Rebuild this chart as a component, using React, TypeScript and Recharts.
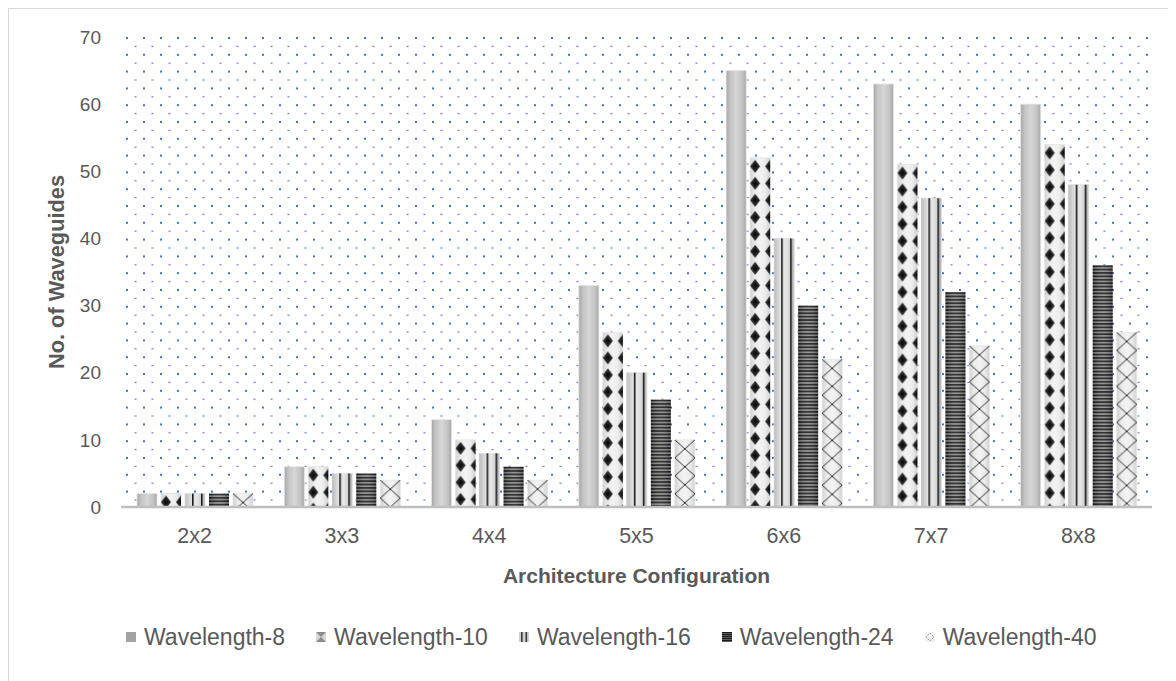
import React from 'react';
import { BarChart, Bar, XAxis, YAxis, CartesianGrid, Legend } from 'recharts';

const categories = ['2x2', '3x3', '4x4', '5x5', '6x6', '7x7', '8x8'];
const wavelength8 = [2, 6, 13, 33, 65, 63, 60];
const wavelength10 = [2, 6, 10, 26, 52, 51, 54];
const wavelength16 = [2, 5, 8, 20, 40, 46, 48];
const wavelength24 = [2, 5, 6, 16, 30, 32, 36];
const wavelength40 = [2, 4, 4, 10, 22, 24, 26];
const yTicks = [0, 10, 20, 30, 40, 50, 60, 70];
const seriesKeys = ['w8', 'w10', 'w16', 'w24', 'w40'];
const seriesNames = ['Wavelength-8', 'Wavelength-10', 'Wavelength-16', 'Wavelength-24', 'Wavelength-40'];
const xTitle = 'Architecture Configuration';
const yTitle = 'No. of Waveguides';

const data = categories.map((c, i) => ({
  category: c,
  w8: wavelength8[i],
  w10: wavelength10[i],
  w16: wavelength16[i],
  w24: wavelength24[i],
  w40: wavelength40[i],
}));

const FONT = '"Liberation Sans", Arial, sans-serif';
const TEXT = '#595959';

const Shape8 = (p: any) => {
  const { x, y, width, height } = p;
  if (!height || height <= 0) return null;
  return <rect x={x} y={y} width={width} height={height} fill="url(#g8)" stroke="#e4e4e4" strokeWidth={0.8} />;
};

const Shape10 = (p: any) => {
  const { x, y, width, height } = p;
  if (!height || height <= 0) return null;
  const id = `p10-${Math.round(x)}`;
  return (
    <g>
      <defs>
        <pattern id={id} patternUnits="userSpaceOnUse" x={x} y={y} width={15} height={17}>
          <polygon points="5,2 10,8.5 5,15 0,8.5" fill="#262626" />
          <polygon points="5,5.5 7.5,8.5 5,11.5 2.5,8.5" fill="#0f0f0f" />
        </pattern>
      </defs>
      <rect x={x} y={y} width={width} height={height} fill="url(#gLight)" stroke="#e4e4e4" strokeWidth={0.8} />
      <rect x={x} y={y} width={width} height={height} fill={`url(#${id})`} />
    </g>
  );
};

const Shape16 = (p: any) => {
  const { x, y, width, height } = p;
  if (!height || height <= 0) return null;
  const id = `p16-${Math.round(x)}`;
  return (
    <g>
      <defs>
        <pattern id={id} patternUnits="userSpaceOnUse" x={x} y={y} width={9} height={10}>
          <rect x={7} y={0} width={1.6} height={10} fill="#1c1c1c" />
        </pattern>
      </defs>
      <rect x={x} y={y} width={width} height={height} fill="url(#g16)" stroke="#e0e0e0" strokeWidth={0.8} />
      <rect x={x} y={y} width={width} height={height} fill={`url(#${id})`} />
    </g>
  );
};

const Shape24 = (p: any) => {
  const { x, y, width, height } = p;
  if (!height || height <= 0) return null;
  const id = `p24-${Math.round(x)}`;
  return (
    <g>
      <defs>
        <pattern id={id} patternUnits="userSpaceOnUse" x={x} y={y} width={10} height={3.4}>
          <rect x={0} y={0} width={10} height={3.4} fill="#8e8e8e" />
          <rect x={0} y={0} width={10} height={1.8} fill="#1e1e1e" />
        </pattern>
      </defs>
      <rect x={x} y={y} width={width} height={height} fill={`url(#${id})`} />
      <rect x={x} y={y} width={width} height={height} fill="url(#gShade)" />
    </g>
  );
};

const Shape40 = (p: any) => {
  const { x, y, width, height } = p;
  if (!height || height <= 0) return null;
  const id = `p40-${Math.round(x)}`;
  const w = width;
  const h = 18;
  return (
    <g>
      <defs>
        <pattern id={id} patternUnits="userSpaceOnUse" x={x} y={y} width={w} height={h}>
          <line x1={0} y1={0} x2={w} y2={h} stroke="#2e2e2e" strokeWidth={1} />
          <line x1={w} y1={0} x2={0} y2={h} stroke="#2e2e2e" strokeWidth={1} />
        </pattern>
      </defs>
      <rect x={x} y={y} width={width} height={height} fill="url(#gLight)" stroke="#e6e6e6" strokeWidth={0.8} />
      <rect x={x} y={y} width={width} height={height} fill={`url(#${id})`} />
    </g>
  );
};

const shapes = [Shape8, Shape10, Shape16, Shape24, Shape40];

const legendIcons = [
  <rect key="a" x={0} y={0} width={10} height={10} fill="#a3a3a3" />,
  <g key="b">
    <rect x={0} y={0} width={10} height={10} fill="#d6d6d6" />
    <polygon points="0,0 10,0 5,5" fill="#8a8a8a" />
    <polygon points="0,10 10,10 5,5" fill="#8a8a8a" />
  </g>,
  <g key="c">
    <rect x={0} y={0} width={10} height={10} fill="#cfcfcf" />
    <rect x={2} y={0} width={1.6} height={10} fill="#3a3a3a" />
    <rect x={6.5} y={0} width={1.6} height={10} fill="#3a3a3a" />
  </g>,
  <g key="d">
    <rect x={0} y={0} width={10} height={10} fill="#7a7a7a" />
    {[0, 2, 4, 6, 8].map((v) => (
      <rect key={v} x={0} y={v} width={10} height={1.3} fill="#1a1a1a" />
    ))}
  </g>,
  <g key="e">
    <rect x={0} y={0} width={10} height={10} fill="#f2f2f2" />
    <polygon points="5,1 9,5 5,9 1,5" fill="none" stroke="#9a9a9a" strokeWidth={1} strokeDasharray="1.5 1" />
  </g>,
];

const renderLegend = () => (
  <div
    style={{
      display: 'flex',
      alignItems: 'center',
      fontFamily: FONT,
      fontSize: 23,
      color: TEXT,
      lineHeight: '28px',
      whiteSpace: 'nowrap',
    }}
  >
    {seriesNames.map((n, i) => (
      <div key={n} style={{ display: 'flex', alignItems: 'center', marginRight: 31 }}>
        <svg width={10} height={10} style={{ marginRight: 8, display: 'block' }}>
          {legendIcons[i]}
        </svg>
        <span>{n}</span>
      </div>
    ))}
  </div>
);

const XTitle = (props: any) => {
  const vb = props.viewBox || { x: 112, y: 498, width: 1031, height: 100 };
  return (
    <text
      x={vb.x + vb.width / 2}
      y={vb.y + 68}
      textAnchor="middle"
      dominantBaseline="central"
      fontFamily={FONT}
      fontSize={21}
      fontWeight="bold"
      fill={TEXT}
    >
      {xTitle}
    </text>
  );
};

const YTitle = (props: any) => {
  const vb = props.viewBox || { x: 0, y: 28, width: 112, height: 470 };
  const cx = vb.x + 47;
  const cy = vb.y + vb.height / 2;
  return (
    <text
      x={cx}
      y={cy}
      transform={`rotate(-90, ${cx}, ${cy})`}
      textAnchor="middle"
      dominantBaseline="central"
      fontFamily={FONT}
      fontSize={21.8}
      fontWeight="bold"
      fill={TEXT}
    >
      {yTitle}
    </text>
  );
};

export default function App() {
  return (
    <div style={{ width: 1180, height: 690, border: '1px solid #d9d9d9', background: '#fff' }}>
      <style>{'html,body{overflow:hidden}'}</style>
      <BarChart
        width={1178}
        height={688}
        data={data}
        margin={{ top: 28, right: 35, left: 0, bottom: 62 }}
        barSize={20}
        barGap={4}
      >
        <defs>
          <pattern id="dots" patternUnits="userSpaceOnUse" x={118} y={29} width={17} height={16.8}>
            <rect x={-1} y={-1} width={2} height={2} fill="#4472c4" />
            <rect x={16} y={-1} width={2} height={2} fill="#4472c4" />
            <rect x={-1} y={15.8} width={2} height={2} fill="#4472c4" />
            <rect x={16} y={15.8} width={2} height={2} fill="#4472c4" />
            <rect x={7.4} y={7.8} width={2.2} height={1.2} fill="#5d86cc" />
          </pattern>
          <linearGradient id="g8" x1="0" y1="0" x2="1" y2="0">
            <stop offset="0" stopColor="#a6a6a6" />
            <stop offset="0.2" stopColor="#c4c4c4" />
            <stop offset="0.5" stopColor="#d6d6d6" />
            <stop offset="0.8" stopColor="#c4c4c4" />
            <stop offset="1" stopColor="#a6a6a6" />
          </linearGradient>
          <linearGradient id="gLight" x1="0" y1="0" x2="1" y2="0">
            <stop offset="0" stopColor="#d2d2d2" />
            <stop offset="0.25" stopColor="#ececec" />
            <stop offset="0.5" stopColor="#f3f3f3" />
            <stop offset="0.75" stopColor="#ececec" />
            <stop offset="1" stopColor="#d2d2d2" />
          </linearGradient>
          <linearGradient id="g16" x1="0" y1="0" x2="1" y2="0">
            <stop offset="0" stopColor="#bdbdbd" />
            <stop offset="0.3" stopColor="#e0e0e0" />
            <stop offset="0.6" stopColor="#e6e6e6" />
            <stop offset="1" stopColor="#b5b5b5" />
          </linearGradient>
          <linearGradient id="gShade" x1="0" y1="0" x2="1" y2="0">
            <stop offset="0" stopColor="#000" stopOpacity={0.25} />
            <stop offset="0.5" stopColor="#fff" stopOpacity={0.1} />
            <stop offset="1" stopColor="#000" stopOpacity={0.25} />
          </linearGradient>
        </defs>
        <CartesianGrid horizontal={false} vertical={false} fill="url(#dots)" stroke="none" />
        <XAxis
          dataKey="category"
          interval={0}
          axisLine={{ stroke: '#bfbfbf', strokeWidth: 2.5 }}
          tickLine={false}
          tickSize={0}
          tickMargin={21}
          height={100}
          tick={{ fill: TEXT, fontSize: 21.5, fontFamily: FONT }}
          label={<XTitle />}
        />
        <YAxis
          domain={[0, 70]}
          ticks={yTicks}
          width={112}
          axisLine={false}
          tickLine={false}
          tickSize={0}
          tickMargin={20}
          tick={{ fill: TEXT, fontSize: 19, fontFamily: FONT }}
          label={<YTitle />}
        />
        <Legend
          verticalAlign="bottom"
          content={renderLegend}
          wrapperStyle={{ left: 117, top: 614, bottom: 'auto', width: 'auto' }}
        />
        {seriesKeys.map((k, i) => (
          <Bar
            key={k}
            dataKey={k}
            name={seriesNames[i]}
            shape={shapes[i]}
            isAnimationActive={false}
          />
        ))}
      </BarChart>
    </div>
  );
}
